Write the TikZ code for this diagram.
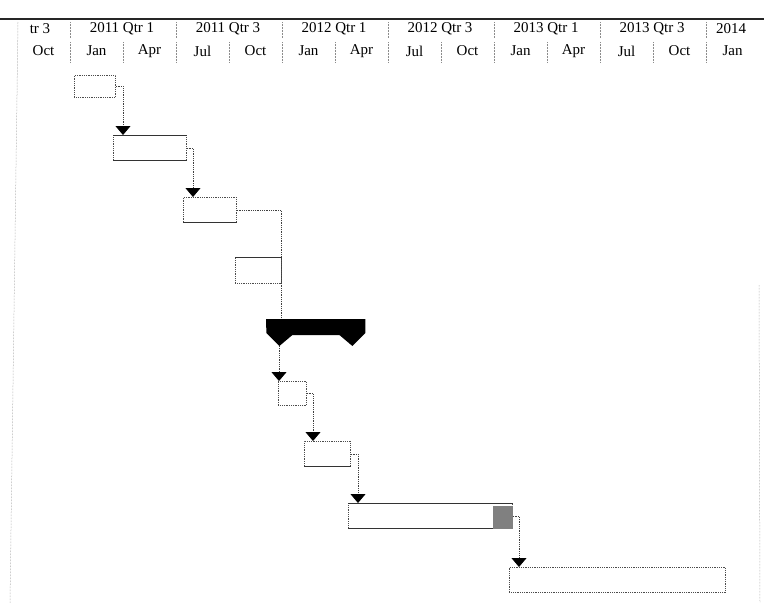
\documentclass[tikz,border=0pt]{standalone}
\usepackage{fontspec}
\setmainfont{Liberation Serif}
\usetikzlibrary{arrows.meta}

\begin{document}
\begin{tikzpicture}[x=1pt,y=-1pt,
  scalelab/.style={font=\fontsize{15}{17}\selectfont, inner sep=0pt},
  taskbar/.style={rectangle, draw=black!70, densely dotted, line width=0.8pt, inner sep=0pt, anchor=north west},
  baredge/.style={draw=black!80, line width=1pt},
  link/.style={draw=black!75, densely dotted, line width=0.8pt},
  linkarrow/.style={link, -{Triangle[width=15pt,length=9pt,black]}},
  gridsep/.style={draw=black!45, densely dotted, line width=0.5pt}]
\useasboundingbox (0,0) rectangle (764,603);

% timescale
\draw[line width=1.4pt,black!85] (0,19) -- (764,19);
\node[scalelab] (halfq) at (40,29) {tr 3};
\foreach \h [count=\i from 0] in {2011 Qtr 1,2011 Qtr 3,2012 Qtr 1,2012 Qtr 3,2013 Qtr 1,2013 Qtr 3}
  \node[scalelab] (half\i) at (122+106*\i,29) {\h};
\node[scalelab] (half6) at (731,29) {2014};
\foreach \m [count=\i from 0] in {Oct,Jan,Apr,Jul,Oct,Jan,Apr,Jul,Oct,Jan,Apr,Jul,Oct,Jan}
  \node[scalelab] (month\i) at (43.5+53*\i,51) {\m};
\foreach \i in {0,...,6} \draw[gridsep] (70+106*\i,22) -- (70+106*\i,38);
\foreach \i in {0,...,12} \draw[gridsep] (70+53*\i,42) -- (70+53*\i,62);
\draw[gridsep] (18,22) -- (10,603);
\draw[gridsep] (759,285) -- (760,603);

% task bars
\node[taskbar,minimum width=41pt,minimum height=22pt] (t1) at (74,75) {};
\node[taskbar,minimum width=73pt,minimum height=25pt] (t2) at (113,135) {};
\node[taskbar,minimum width=53pt,minimum height=25pt] (t3) at (183,197) {};
\node[taskbar,minimum width=46pt,minimum height=26pt] (t4) at (235,257) {};
\node[taskbar,minimum width=28pt,minimum height=24pt] (t6) at (278,381) {};
\node[taskbar,minimum width=46pt,minimum height=25pt] (t7) at (304,441) {};
\node[taskbar,minimum width=164pt,minimum height=25pt] (t8) at (348,503) {};
\node[taskbar,minimum width=216pt,minimum height=25pt] (t9) at (509,567) {};

\draw[baredge] (t2.north west) -- (t2.north east);
\draw[baredge] (t2.south west) -- (t2.south east);
\draw[baredge] (t3.south west) -- (t3.south east);
\draw[baredge] (t4.north west) -- (t4.north east);
\draw[baredge] (t7.south west) -- (t7.south east);
\draw[baredge] (t8.north west) -- (t8.north east);
\draw[baredge] (t8.south west) -- (t8.south east);
\fill[black!50] ([shift={(-20,3)}]t8.north east) rectangle (t8.south east);

% links
\draw[linkarrow] (t1.east) -| ([xshift=10pt]t2.north west);
\draw[linkarrow] (t2.east) -| ([xshift=10pt]t3.north west);

% summary
\node[inner sep=0pt,minimum width=99pt,minimum height=16pt,anchor=north west] (sum) at (266,319) {};
\draw[link] (t3.east) -| ([xshift=15pt]sum.north west);
\fill[black] (sum.north west) -- (sum.north east) -- ++(0,14) -- ++(-13,13)
  -- ++(-13,-11) -- ++(-47,0) -- ++(-13,11) -- ++(-13,-13) -- cycle;
\coordinate (sumL) at ([shift={(13,27)}]sum.north west);

\draw[linkarrow] (sumL) -- (sumL |- t6.north);
\draw[linkarrow] (t6.east) -| ([xshift=9pt]t7.north west);
\draw[linkarrow] (t7.east) -| ([xshift=10pt]t8.north west);
\draw[linkarrow] (t8.east) -| ([xshift=10pt]t9.north west);

\end{tikzpicture}
\end{document}
